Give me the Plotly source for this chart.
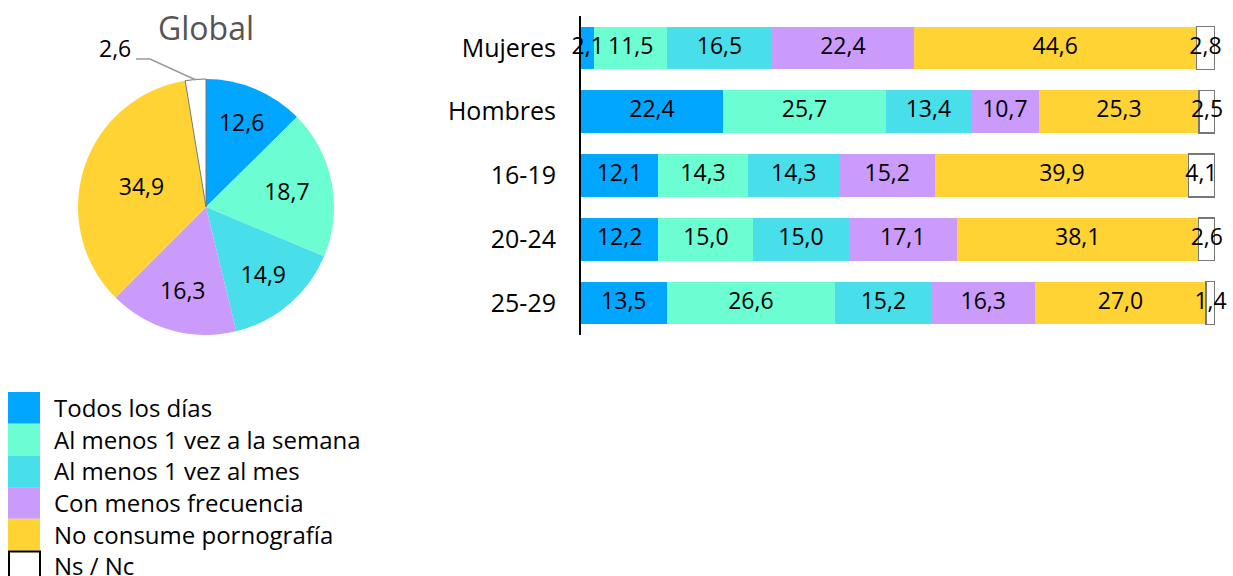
import plotly.graph_objects as go

W, H = 1233, 576

categories = ["Mujeres", "Hombres", "16-19", "20-24", "25-29"]
series_names = ["Todos los días", "Al menos 1 vez a la semana", "Al menos 1 vez al mes",
                "Con menos frecuencia", "No consume pornografía", "Ns / Nc"]
todos = [2.1, 22.4, 12.1, 12.2, 13.5]
semana = [11.5, 25.7, 14.3, 15.0, 26.6]
mes = [16.5, 13.4, 14.3, 15.0, 15.2]
menos = [22.4, 10.7, 15.2, 17.1, 16.3]
no_consume = [44.6, 25.3, 39.9, 38.1, 27.0]
nsnc = [2.8, 2.5, 4.1, 2.6, 1.4]
global_values = [12.6, 18.7, 14.9, 16.3, 34.9, 2.6]

colors = ["#00A6FF", "#6CFED2", "#48DEEA", "#CA9BFB", "#FFD333", "#FFFFFF"]
FONT = "Open Sans"

def px_x(x):
    return x / W

def px_y(y):
    return 1 - y / H

def fmt(v):
    return f"{v:.1f}".replace(".", ",")

fig = go.Figure()

# Pie
pie_text = [fmt(v) for v in global_values]
pie_text[-1] = ""
fig.add_trace(go.Pie(
    values=global_values, labels=series_names, sort=False, direction="clockwise",
    rotation=0,
    marker=dict(colors=colors, line=dict(color=["rgba(0,0,0,0)"] * 5 + ["#777777"], width=[0, 0, 0, 0, 0, 1])),
    text=pie_text, textinfo="text", textposition="inside", insidetextorientation="horizontal",
    textfont=dict(family=FONT, size=23, color="black"),
    domain=dict(x=[px_x(78), px_x(334)], y=[px_y(335), px_y(79)]),
    showlegend=False, hoverinfo="label+value",
))

# Stacked bars
all_series = [todos, semana, mes, menos, no_consume, nsnc]
for name, vals, col in zip(series_names, all_series, colors):
    is_ns = name == "Ns / Nc"
    fig.add_trace(go.Bar(
        y=categories, x=vals, orientation="h", name=name,
        marker=dict(color=col, line=dict(color="#777777" if is_ns else col, width=1.5 if is_ns else 0)),
        textposition="none", showlegend=False,
    ))

# Value labels on top of all bars (midpoints of the stacked segments)
lab_x, lab_y, lab_t = [], [], []
for ci, cat in enumerate(categories):
    cum = 0.0
    for vals in all_series:
        v = vals[ci]
        lab_x.append(cum + v / 2)
        lab_y.append(cat)
        lab_t.append(fmt(v))
        cum += v
fig.add_trace(go.Scatter(
    x=lab_x, y=lab_y, text=lab_t, mode="text", textposition="middle center",
    textfont=dict(family=FONT, size=23, color="black"), showlegend=False,
    hoverinfo="skip", cliponaxis=False,
))

fig.update_layout(
    width=W, height=H, barmode="stack", bargap=0.33,
    margin=dict(l=0, r=0, t=0, b=0),
    paper_bgcolor="white", plot_bgcolor="white",
    font=dict(family=FONT, size=22, color="black"),
    xaxis=dict(domain=[px_x(581), px_x(1215)], range=[0, 100], visible=False, fixedrange=True),
    yaxis=dict(domain=[px_y(335), px_y(16)], autorange="reversed", showline=True,
               linecolor="black", linewidth=2, ticks="outside", ticklen=18,
               tickcolor="rgba(0,0,0,0)", showgrid=False, zeroline=False,
               tickfont=dict(family=FONT, size=25, color="black")),
)

# Title of pie
fig.add_annotation(x=px_x(206), y=px_y(27), xref="paper", yref="paper", text="Global",
                   showarrow=False, font=dict(family=FONT, size=32, color="#555555"),
                   xanchor="center", yanchor="middle")

# Outside label for Ns/Nc slice
fig.add_annotation(x=px_x(133), y=px_y(48), xref="paper", yref="paper",
                   text=fmt(global_values[-1]), showarrow=False,
                   font=dict(family=FONT, size=23, color="black"), xanchor="right", yanchor="middle")
fig.add_shape(type="path", xref="paper", yref="paper",
              path=f"M {px_x(136)} {px_y(59)} L {px_x(150)} {px_y(59)} L {px_x(196)} {px_y(80)}",
              line=dict(color="#999999", width=1.5))

# Legend drawn manually
leg_top = 392
leg_step = 31.7
for i, (name, col) in enumerate(zip(series_names, colors)):
    y0 = leg_top + i * leg_step
    y1 = y0 + leg_step
    is_ns = name == "Ns / Nc"
    fig.add_shape(type="rect", xref="paper", yref="paper",
                  x0=px_x(9 if is_ns else 8), x1=px_x(40),
                  y0=px_y(y1 + (4 if is_ns else 0)), y1=px_y(y0 + (1 if is_ns else 0)),
                  fillcolor=col, line=dict(color="black" if is_ns else col, width=2 if is_ns else 0))
    fig.add_annotation(x=px_x(52), y=px_y(y0 + leg_step / 2 - 0.5), xref="paper", yref="paper",
                       text=name, showarrow=False, xanchor="left", yanchor="middle",
                       font=dict(family=FONT, size=24, color="black"))

fig.write_html("out.html", config={"displayModeBar": False},
               post_script="document.body.style.margin='0';document.body.style.overflow='hidden';")
